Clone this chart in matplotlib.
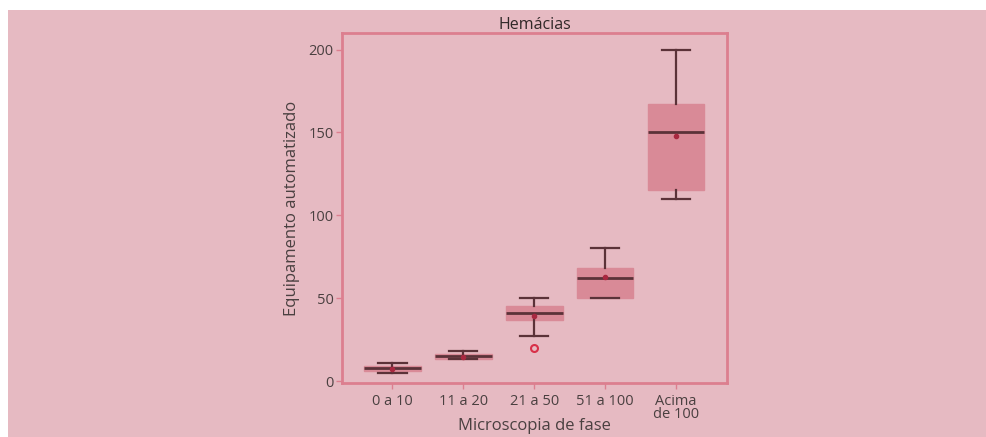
import matplotlib
matplotlib.use("Agg")
import matplotlib.pyplot as plt
from matplotlib.patches import Rectangle

plt.rcParams['font.family'] = ['Open Sans', 'DejaVu Sans']

categories = ["0 a 10", "11 a 20", "21 a 50", "51 a 100", "Acima\nde 100"]
whisker_low = [5, 13, 27, 50, 110]
q1 = [6, 13, 37, 50, 115]
median = [8, 15, 41, 62, 150]
q3 = [9, 16, 45, 68, 167]
whisker_high = [11, 18, 50, 80, 200]
means = [7.5, 14.5, 39, 62.5, 148]
outliers = [[], [], [20], [], []]

title = "Hemácias"
xlabel = "Microscopia de fase"
ylabel = "Equipamento automatizado"
yticks = [0, 50, 100, 150, 200]

bg = '#e6bac2'
box_fill = '#d98a97'
spine_col = '#dc7f8f'
dark = '#5b3238'
text_col = '#4a4040'

fig = plt.figure(figsize=(9.87, 4.37), dpi=100)
fig.patch.set_facecolor('white')
fig.patches.append(Rectangle((8/987, 0), 1, 1 - 10/437, transform=fig.transFigure,
                             facecolor=bg, edgecolor='none', zorder=-10))

ax = fig.add_axes([342/987, 1 - 383/437, (727-342)/987, (383-33)/437])
ax.set_facecolor(bg)

stats = []
for i in range(len(categories)):
    stats.append(dict(whislo=whisker_low[i], q1=q1[i], med=median[i], q3=q3[i],
                      whishi=whisker_high[i], mean=means[i], fliers=outliers[i]))

ax.bxp(stats, positions=range(len(categories)), widths=0.8, patch_artist=True,
       showmeans=True, showfliers=True,
       boxprops=dict(facecolor=box_fill, edgecolor=box_fill, linewidth=1),
       medianprops=dict(color=dark, linewidth=2),
       whiskerprops=dict(color=dark, linewidth=1.6),
       capprops=dict(color=dark, linewidth=1.6),
       capwidths=0.4,
       meanprops=dict(marker='o', markersize=3, markerfacecolor='#a82840',
                      markeredgecolor='#a82840'),
       flierprops=dict(marker='o', markersize=5, markerfacecolor='none',
                       markeredgecolor='#d83048', markeredgewidth=1.5))

ax.set_xlim(-0.71, 4.72)
ax.set_ylim(-1.2, 210)
ax.set_yticks(yticks)
ax.set_xticks(range(len(categories)))
ax.set_xticklabels(categories, linespacing=0.85)

for s in ax.spines.values():
    s.set_color(spine_col)
    s.set_linewidth(2)

ax.tick_params(axis='both', colors=spine_col, labelcolor=text_col, labelsize=10.5,
               length=4, width=1)
ax.tick_params(axis='x', pad=4)
ax.tick_params(axis='y', pad=2)
ax.set_title(title, fontsize=11.5, color='#302828', pad=3)
ax.set_xlabel(xlabel, fontsize=12, color=text_col, labelpad=-3)
ax.set_ylabel(ylabel, fontsize=12, color=text_col, labelpad=6)

fig.savefig('out.png', dpi=100, facecolor=fig.get_facecolor())
